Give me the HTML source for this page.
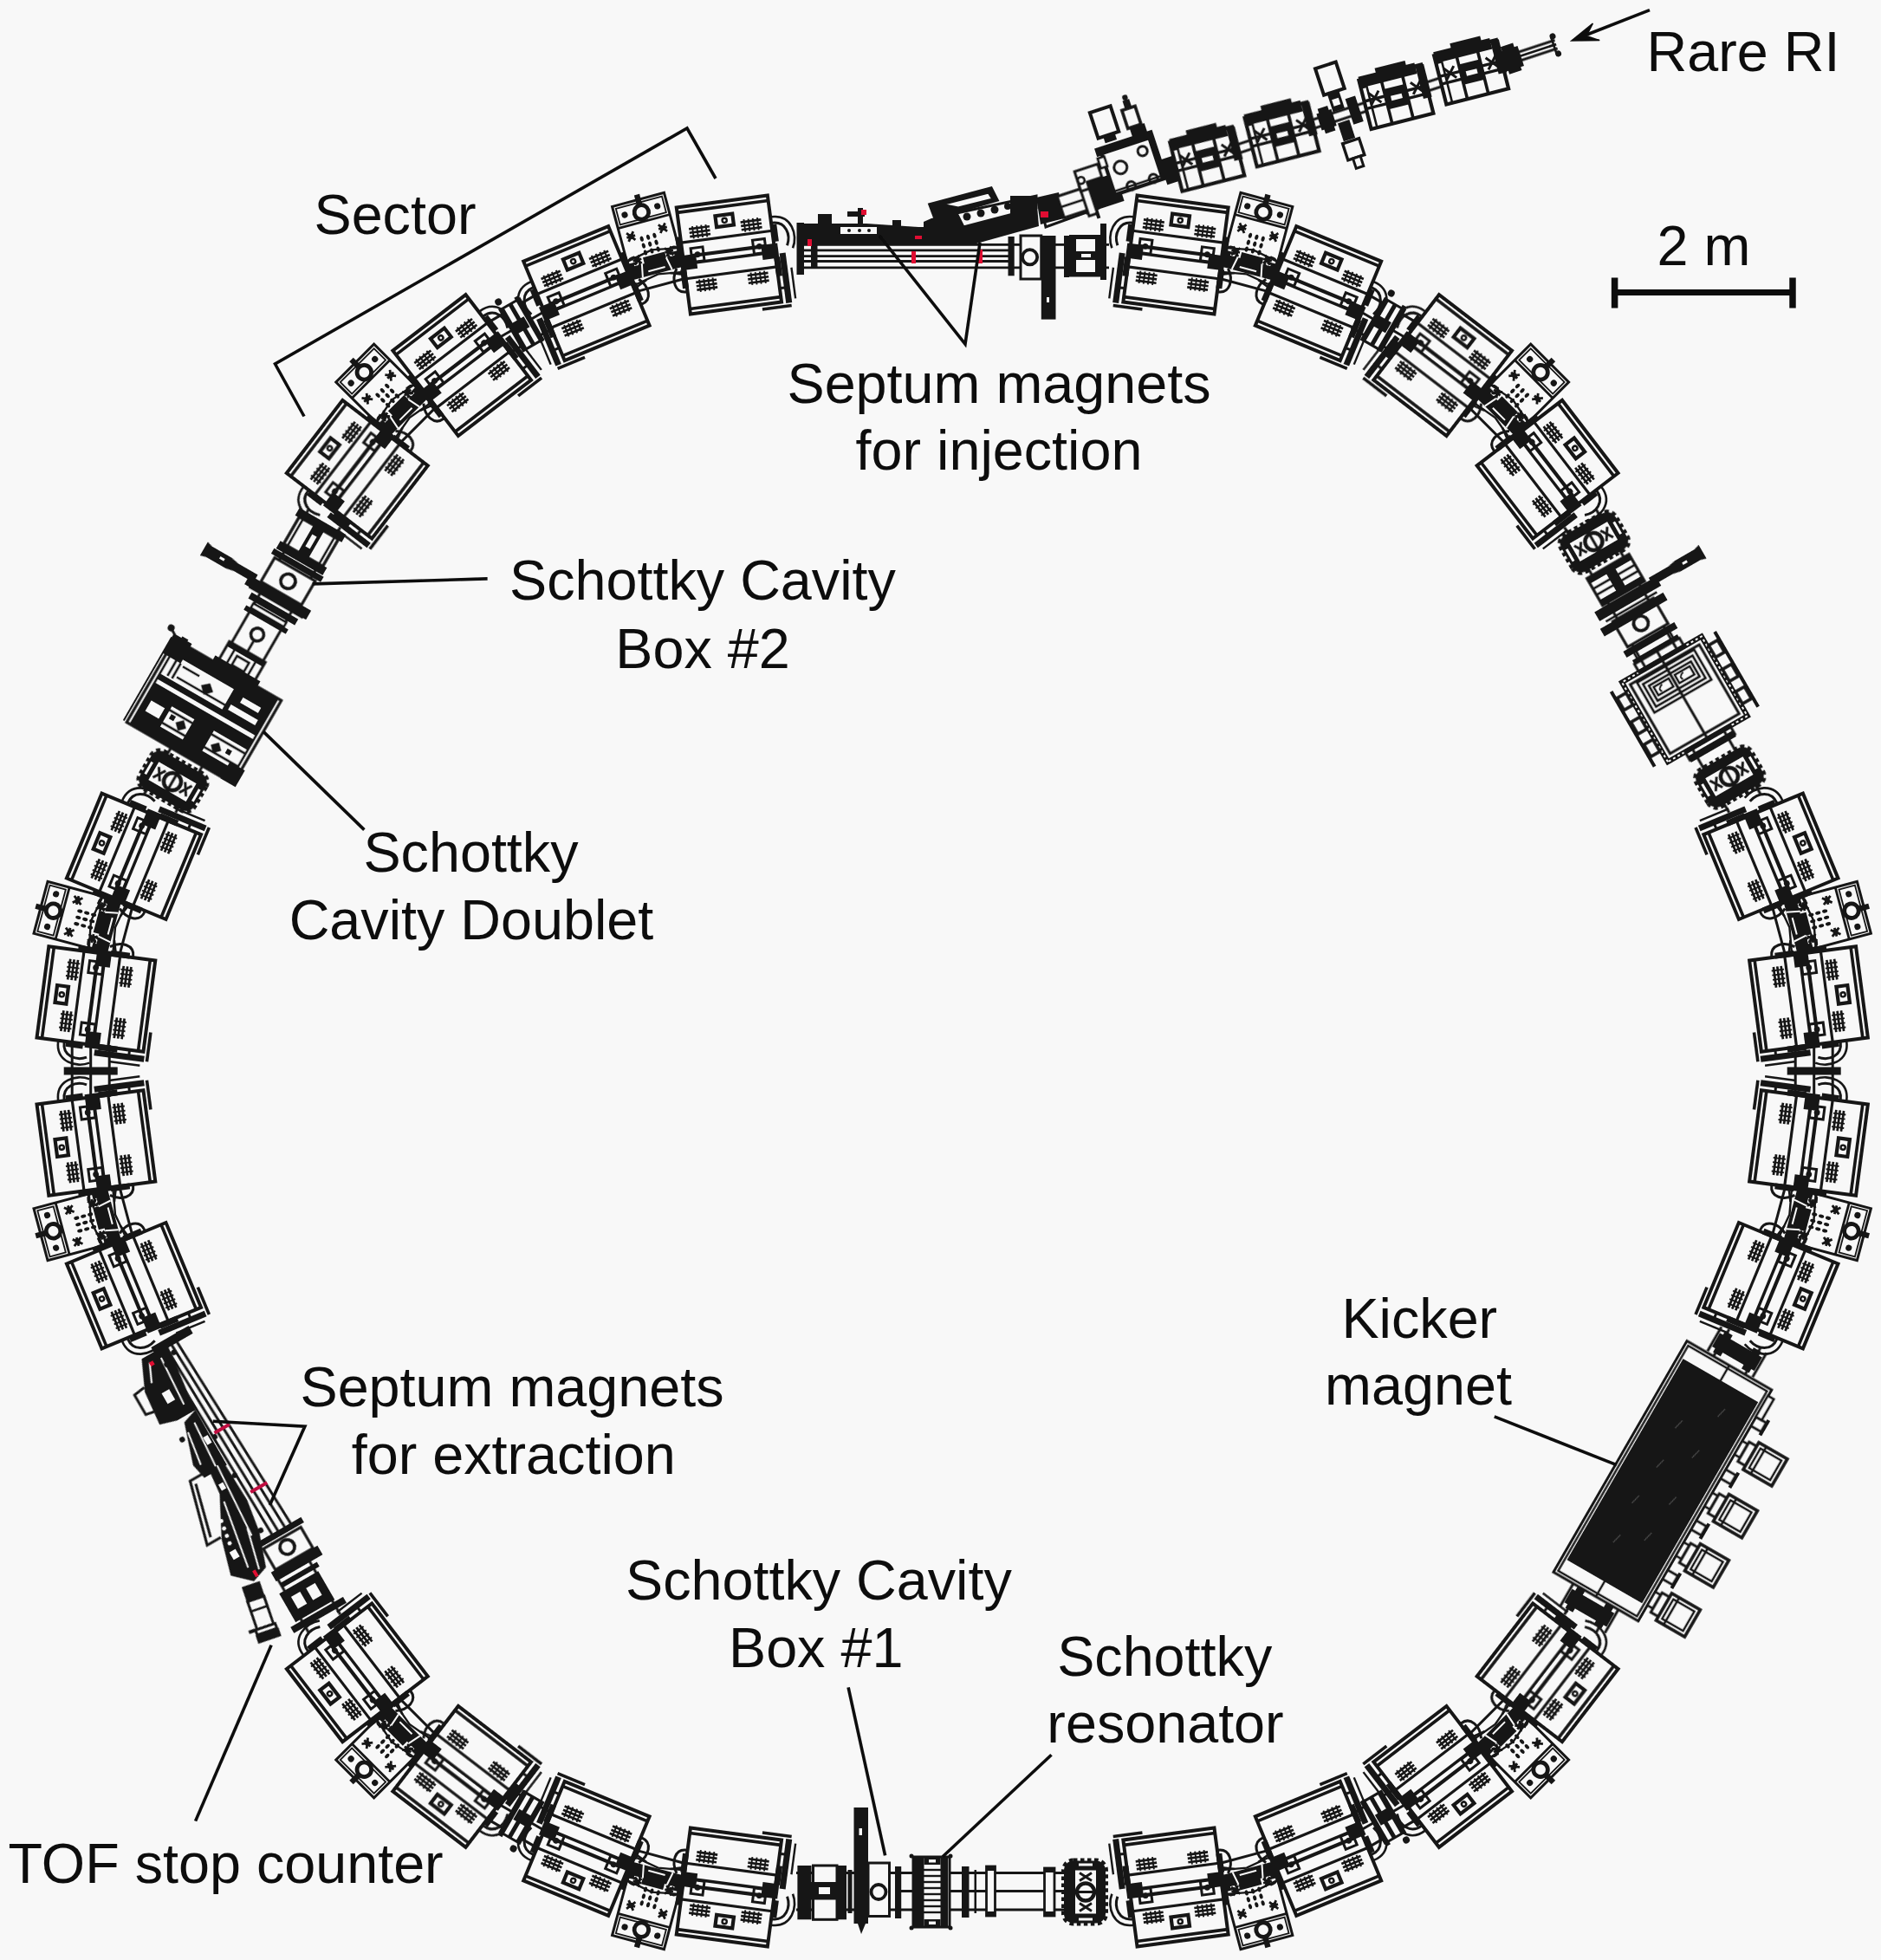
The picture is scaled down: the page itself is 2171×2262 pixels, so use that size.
<!DOCTYPE html><html><head><meta charset="utf-8"><style>html,body{margin:0;padding:0;background:#f8f8f8}svg{display:block}</style></head><body><svg width="2171" height="2262" viewBox="0 0 2171 2262"><rect width="2171" height="2262" fill="#f8f8f8"/><filter id="soft" x="0" y="0" width="100%" height="100%" filterUnits="userSpaceOnUse" primitiveUnits="userSpaceOnUse"><feGaussianBlur stdDeviation="0.55"/></filter><g filter="url(#soft)"><defs><g id="hs" stroke="#151515" stroke-width="2.7" fill="none"><line x1="-4.4" y1="-12" x2="-4.4" y2="12"/><line x1="0.0" y1="-12" x2="0.0" y2="12"/><line x1="4.4" y1="-12" x2="4.4" y2="12"/><line x1="-7.2" y1="-7.8" x2="7.2" y2="-7.8" stroke-width="1.9"/><line x1="-7.2" y1="-2.6" x2="7.2" y2="-2.6" stroke-width="1.9"/><line x1="-7.2" y1="2.6" x2="7.2" y2="2.6" stroke-width="1.9"/><line x1="-7.2" y1="7.8" x2="7.2" y2="7.8" stroke-width="1.9"/></g><g id="dip" stroke="#151515" fill="none" stroke-linejoin="miter"><rect x="-63" y="-54" width="126" height="108" fill="#f8f8f8" stroke="none"/><rect x="-62" y="-53" width="124" height="106" stroke-width="4"/><line x1="56" y1="-53" x2="56" y2="53" stroke-width="3.6"/><line x1="-56" y1="-53" x2="-56" y2="53" stroke-width="3.6"/><line x1="21" y1="-53" x2="21" y2="53" stroke-width="3.2"/><line x1="-21" y1="-53" x2="-21" y2="53" stroke-width="3.2"/><line x1="4.5" y1="-42" x2="4.5" y2="42" stroke-width="4.2"/><line x1="-3.8" y1="-42" x2="-3.8" y2="42" stroke-width="3.4"/><rect x="-3" y="29.0" width="16" height="14" stroke-width="3"/><circle cx="5" cy="36.0" r="3.4" fill="#151515" stroke="none"/><rect x="-11" y="38.0" width="17" height="19" fill="#151515" stroke="none"/><rect x="-32" y="51.0" width="22" height="7" fill="#151515" stroke="none"/><rect x="8" y="54.0" width="20" height="5" fill="#151515" stroke="none"/><rect x="-3" y="-43.0" width="16" height="14" stroke-width="3"/><circle cx="5" cy="-36.0" r="3.4" fill="#151515" stroke="none"/><rect x="-11" y="-57.0" width="17" height="19" fill="#151515" stroke="none"/><rect x="-32" y="-58.0" width="22" height="7" fill="#151515" stroke="none"/><rect x="8" y="-59.0" width="20" height="5" fill="#151515" stroke="none"/><use href="#hs" x="31" y="30"/><use href="#hs" x="31" y="-30"/><use href="#hs" x="-31" y="30"/><use href="#hs" x="-31" y="-30"/><rect x="33.5" y="-10" width="13" height="20" stroke-width="4.2"/><circle cx="40" cy="0" r="2.6" stroke-width="2.4"/><line x1="-67.5" y1="-64" x2="-67.5" y2="-30" stroke-width="3.6"/><rect x="-64" y="-65" width="58" height="7" fill="#151515" stroke="none"/><line x1="-60" y1="-69.5" x2="-24" y2="-69.5" stroke-width="2.4"/><line x1="-46" y1="-54" x2="-46" y2="-59" stroke-width="3"/><path d="M30 -54 C30 -70 14 -74 2 -68" stroke-width="3"/><path d="M37 -54 C37 -78 12 -82 -2 -74" stroke-width="2.6"/><path d="M-36 54 C-36 68 -20 70 -8 62" stroke-width="3"/><path d="M-16 54 L-12 70 M12 54 L10 68" stroke-width="2.6"/></g><g id="pb" stroke="#151515" fill="none"><rect x="-22" y="-31" width="102" height="62" fill="#f8f8f8" stroke-width="3"/><line x1="54" y1="-31" x2="54" y2="31" stroke-width="2.8"/><rect x="57.5" y="-27.5" width="19" height="55" stroke-width="1.8"/><circle cx="65" cy="0" r="8.3" stroke-width="4.8"/><circle cx="67" cy="-19.5" r="3.6" fill="#151515" stroke="none"/><circle cx="67" cy="19.5" r="3.6" fill="#151515" stroke="none"/><rect x="73" y="-3.2" width="13" height="6.4" fill="#151515" stroke="none"/><ellipse cx="18.8" cy="-7.6" rx="3.1" ry="2" fill="#151515" stroke="none"/><ellipse cx="18.8" cy="0.0" rx="3.1" ry="2" fill="#151515" stroke="none"/><ellipse cx="18.8" cy="7.6" rx="3.1" ry="2" fill="#151515" stroke="none"/><ellipse cx="27.0" cy="-7.6" rx="3.1" ry="2" fill="#151515" stroke="none"/><ellipse cx="27.0" cy="0.0" rx="3.1" ry="2" fill="#151515" stroke="none"/><ellipse cx="27.0" cy="7.6" rx="3.1" ry="2" fill="#151515" stroke="none"/><ellipse cx="35.2" cy="-7.6" rx="3.1" ry="2" fill="#151515" stroke="none"/><ellipse cx="35.2" cy="0.0" rx="3.1" ry="2" fill="#151515" stroke="none"/><ellipse cx="35.2" cy="7.6" rx="3.1" ry="2" fill="#151515" stroke="none"/><path d="M36 15 l10 8 M46 15 l-10 8 M41 14 l0 10" stroke-width="2.8"/><rect x="38" y="16" width="6" height="6" fill="#151515" stroke="none"/><path d="M36 -23 l10 8 M46 -23 l-10 8 M41 -24 l0 10" stroke-width="2.8"/><rect x="38" y="-22" width="6" height="6" fill="#151515" stroke="none"/><path d="M8 15 l10 8 M18 15 l-10 8 M13 14 l0 10" stroke-width="2.8"/><rect x="10" y="16" width="6" height="6" fill="#151515" stroke="none"/><path d="M8 -23 l10 8 M18 -23 l-10 8 M13 -24 l0 10" stroke-width="2.8"/><rect x="10" y="-22" width="6" height="6" fill="#151515" stroke="none"/><rect x="-8" y="-31" width="15" height="62" fill="#151515" stroke="none"/><rect x="4" y="-12" width="10" height="26" fill="#151515" stroke="none"/><rect x="-2" y="-38" width="12" height="14" fill="#151515" stroke="none"/><rect x="-2" y="24" width="12" height="14" fill="#151515" stroke="none"/><path d="M-8 -18 L7 -15 M-8 17 L7 14 M-3 -10 L-3 10" stroke-width="2" stroke="#f8f8f8"/><circle cx="10" cy="-24" r="7" stroke-width="2.4"/><circle cx="10" cy="24" r="7" stroke-width="2.4"/><path d="M-15 -34 L-9 0 L-15 34" stroke-width="2.4"/><path d="M14 -31 L20 0 L14 31" stroke-width="2.4"/></g></defs>
<use href="#pb" transform="translate(2074.1 1404.0) rotate(15.00)"/>
<use href="#pb" transform="translate(2074.1 1068.0) rotate(-15.00)"/>
<use href="#dip" transform="translate(2043.9 1483.7) rotate(22.50) scale(1 -1)"/>
<use href="#dip" transform="translate(2087.5 1319.0) rotate(7.50)"/>
<use href="#dip" transform="translate(2087.5 1153.0) rotate(-7.50) scale(1 -1)"/>
<use href="#dip" transform="translate(2043.9 988.3) rotate(-22.50)"/>
<g transform="translate(2093.7 1236.0) rotate(0.00)" stroke="#151515" fill="none"><line x1="-21.5" y1="-30" x2="-21.5" y2="30" stroke-width="3"/><line x1="0" y1="-30" x2="0" y2="30" stroke-width="3"/><line x1="21.5" y1="-30" x2="21.5" y2="30" stroke-width="3"/><rect x="-31" y="-4.5" width="62" height="9" fill="#151515" stroke="none"/></g>
<use href="#pb" transform="translate(1441.2 2164.3) rotate(75.00)"/>
<use href="#pb" transform="translate(1732.1 1996.3) rotate(45.00)"/>
<use href="#dip" transform="translate(1357.0 2178.0) rotate(82.50) scale(1 -1)"/>
<use href="#dip" transform="translate(1521.5 2133.4) rotate(67.50)"/>
<use href="#dip" transform="translate(1665.2 2050.4) rotate(52.50) scale(1 -1)"/>
<use href="#dip" transform="translate(1786.1 1930.3) rotate(37.50)"/>
<g transform="translate(1596.4 2097.3) rotate(60.00)" stroke="#151515" fill="none"><line x1="-21.5" y1="-30" x2="-21.5" y2="30" stroke-width="3"/><line x1="0" y1="-30" x2="0" y2="30" stroke-width="3"/><line x1="21.5" y1="-30" x2="21.5" y2="30" stroke-width="3"/><rect x="-27" y="-13" width="54" height="26" fill="#f8f8f8" stroke-width="3"/><rect x="-27" y="-13" width="54" height="5" fill="#151515" stroke="none"/><rect x="-27" y="-2" width="54" height="5" fill="#151515" stroke="none"/><rect x="-29" y="8" width="60" height="5" fill="#151515" stroke="none"/><rect x="-7" y="-9" width="14" height="16" fill="#151515" stroke="none"/><circle cx="36" cy="-10" r="4" fill="#151515" stroke="none"/></g>
<use href="#pb" transform="translate(466.3 1996.3) rotate(135.00)"/>
<use href="#pb" transform="translate(757.2 2164.3) rotate(105.00)"/>
<use href="#dip" transform="translate(412.3 1930.3) rotate(142.50) scale(1 -1)"/>
<use href="#dip" transform="translate(533.2 2050.4) rotate(127.50)"/>
<use href="#dip" transform="translate(676.9 2133.4) rotate(112.50) scale(1 -1)"/>
<use href="#dip" transform="translate(841.4 2178.0) rotate(97.50)"/>
<g transform="translate(601.9 2097.3) rotate(120.00)" stroke="#151515" fill="none"><line x1="-21.5" y1="-30" x2="-21.5" y2="30" stroke-width="3"/><line x1="0" y1="-30" x2="0" y2="30" stroke-width="3"/><line x1="21.5" y1="-30" x2="21.5" y2="30" stroke-width="3"/><rect x="-27" y="-13" width="54" height="26" fill="#f8f8f8" stroke-width="3"/><rect x="-27" y="-13" width="54" height="5" fill="#151515" stroke="none"/><rect x="-27" y="-2" width="54" height="5" fill="#151515" stroke="none"/><rect x="-29" y="8" width="60" height="5" fill="#151515" stroke="none"/><rect x="-7" y="-9" width="14" height="16" fill="#151515" stroke="none"/><circle cx="36" cy="-10" r="4" fill="#151515" stroke="none"/></g>
<use href="#pb" transform="translate(124.3 1068.0) rotate(195.00)"/>
<use href="#pb" transform="translate(124.3 1404.0) rotate(165.00)"/>
<use href="#dip" transform="translate(154.5 988.3) rotate(202.50) scale(1 -1)"/>
<use href="#dip" transform="translate(110.9 1153.0) rotate(187.50)"/>
<use href="#dip" transform="translate(110.9 1319.0) rotate(172.50) scale(1 -1)"/>
<use href="#dip" transform="translate(154.5 1483.7) rotate(157.50)"/>
<g transform="translate(104.7 1236.0) rotate(180.00)" stroke="#151515" fill="none"><line x1="-21.5" y1="-30" x2="-21.5" y2="30" stroke-width="3"/><line x1="0" y1="-30" x2="0" y2="30" stroke-width="3"/><line x1="21.5" y1="-30" x2="21.5" y2="30" stroke-width="3"/><rect x="-31" y="-4.5" width="62" height="9" fill="#151515" stroke="none"/></g>
<use href="#pb" transform="translate(757.2 307.7) rotate(255.00)"/>
<use href="#pb" transform="translate(466.3 475.7) rotate(225.00)"/>
<use href="#dip" transform="translate(841.4 294.0) rotate(262.50) scale(1 -1)"/>
<use href="#dip" transform="translate(676.9 338.6) rotate(247.50)"/>
<use href="#dip" transform="translate(533.2 421.6) rotate(232.50) scale(1 -1)"/>
<use href="#dip" transform="translate(412.3 541.7) rotate(217.50)"/>
<g transform="translate(601.9 374.7) rotate(240.00)" stroke="#151515" fill="none"><line x1="-21.5" y1="-30" x2="-21.5" y2="30" stroke-width="3"/><line x1="0" y1="-30" x2="0" y2="30" stroke-width="3"/><line x1="21.5" y1="-30" x2="21.5" y2="30" stroke-width="3"/><rect x="-27" y="-13" width="54" height="26" fill="#f8f8f8" stroke-width="3"/><rect x="-27" y="-13" width="54" height="5" fill="#151515" stroke="none"/><rect x="-27" y="-2" width="54" height="5" fill="#151515" stroke="none"/><rect x="-29" y="8" width="60" height="5" fill="#151515" stroke="none"/><rect x="-7" y="-9" width="14" height="16" fill="#151515" stroke="none"/><circle cx="36" cy="-10" r="4" fill="#151515" stroke="none"/></g>
<use href="#pb" transform="translate(1732.1 475.7) rotate(315.00)"/>
<use href="#pb" transform="translate(1441.2 307.7) rotate(285.00)"/>
<use href="#dip" transform="translate(1786.1 541.7) rotate(322.50) scale(1 -1)"/>
<use href="#dip" transform="translate(1665.2 421.6) rotate(307.50)"/>
<use href="#dip" transform="translate(1521.5 338.6) rotate(292.50) scale(1 -1)"/>
<use href="#dip" transform="translate(1357.0 294.0) rotate(277.50)"/>
<g transform="translate(1596.4 374.7) rotate(300.00)" stroke="#151515" fill="none"><line x1="-21.5" y1="-30" x2="-21.5" y2="30" stroke-width="3"/><line x1="0" y1="-30" x2="0" y2="30" stroke-width="3"/><line x1="21.5" y1="-30" x2="21.5" y2="30" stroke-width="3"/><rect x="-27" y="-13" width="54" height="26" fill="#f8f8f8" stroke-width="3"/><rect x="-27" y="-13" width="54" height="5" fill="#151515" stroke="none"/><rect x="-27" y="-2" width="54" height="5" fill="#151515" stroke="none"/><rect x="-29" y="8" width="60" height="5" fill="#151515" stroke="none"/><rect x="-7" y="-9" width="14" height="16" fill="#151515" stroke="none"/><circle cx="36" cy="-10" r="4" fill="#151515" stroke="none"/></g>
<g>
<line x1="919.0" y1="2161.5" x2="1276.0" y2="2161.5" stroke="#151515" stroke-width="3.2"/>
<line x1="919.0" y1="2204.0" x2="1276.0" y2="2204.0" stroke="#151515" stroke-width="3.2"/>
<line x1="1040.0" y1="2182.5" x2="1230.0" y2="2182.5" stroke="#151515" stroke-width="3.0"/>
<rect x="920.4" y="2153.0" width="16.1" height="62.3" fill="#151515" stroke="none"/>
<rect x="938.5" y="2153.0" width="27.5" height="62.3" fill="#f8f8f8" stroke="#151515" stroke-width="3.0"/>
<rect x="936.0" y="2172.0" width="30.0" height="20.5" fill="#151515" stroke="none"/>
<rect x="945.0" y="2178.0" width="13.0" height="8.0" fill="#f8f8f8" stroke="none"/>
<rect x="966.5" y="2153.0" width="10.5" height="62.3" fill="#151515" stroke="none"/>
<rect x="978.5" y="2158.0" width="5.0" height="50.0" fill="#151515" stroke="none"/>
<rect x="985.5" y="2086.0" width="16.5" height="134.0" fill="#151515" stroke="none"/>
<path d="M990 2220 L994 2232 L999 2220 Z" fill="#151515" stroke="#151515" stroke-width="0.0"/>
<rect x="991.5" y="2110.0" width="3.5" height="8.0" fill="#f8f8f8" stroke="none"/>
<rect x="1002.0" y="2150.0" width="24.5" height="61.5" fill="#f8f8f8" stroke="#151515" stroke-width="3.0"/>
<circle cx="1014.0" cy="2183.5" r="8.5" fill="none" stroke="#151515" stroke-width="3.8"/>
<rect x="1033.0" y="2154.0" width="7.2" height="60.0" fill="#151515" stroke="none"/>
<rect x="1054.0" y="2143.0" width="42.0" height="81.0" fill="#f8f8f8" stroke="#151515" stroke-width="3.0"/>
<rect x="1055.0" y="2143.0" width="11.5" height="81.0" fill="#151515" stroke="none"/>
<rect x="1085.5" y="2143.0" width="8.5" height="81.0" fill="#151515" stroke="none"/>
<line x1="1066.0" y1="2158.0" x2="1086.0" y2="2158.0" stroke="#151515" stroke-width="2.4"/>
<line x1="1066.0" y1="2165.0" x2="1086.0" y2="2165.0" stroke="#151515" stroke-width="2.4"/>
<line x1="1066.0" y1="2172.0" x2="1086.0" y2="2172.0" stroke="#151515" stroke-width="2.4"/>
<line x1="1066.0" y1="2179.0" x2="1086.0" y2="2179.0" stroke="#151515" stroke-width="2.4"/>
<line x1="1066.0" y1="2186.0" x2="1086.0" y2="2186.0" stroke="#151515" stroke-width="2.4"/>
<line x1="1066.0" y1="2193.0" x2="1086.0" y2="2193.0" stroke="#151515" stroke-width="2.4"/>
<line x1="1066.0" y1="2200.0" x2="1086.0" y2="2200.0" stroke="#151515" stroke-width="2.4"/>
<line x1="1066.0" y1="2207.0" x2="1086.0" y2="2207.0" stroke="#151515" stroke-width="2.4"/>
<circle cx="1052.0" cy="2142.0" r="2.5" fill="#151515" stroke="#151515" stroke-width="0.0"/>
<circle cx="1097.0" cy="2142.0" r="2.5" fill="#151515" stroke="#151515" stroke-width="0.0"/>
<circle cx="1052.0" cy="2225.0" r="2.5" fill="#151515" stroke="#151515" stroke-width="0.0"/>
<circle cx="1097.0" cy="2225.0" r="2.5" fill="#151515" stroke="#151515" stroke-width="0.0"/>
<rect x="1066.5" y="2143.0" width="19.0" height="9.0" fill="#151515" stroke="none"/>
<rect x="1066.5" y="2215.0" width="19.0" height="9.0" fill="#151515" stroke="none"/>
<rect x="1072.0" y="2146.0" width="8.0" height="3.5" fill="#f8f8f8" stroke="none"/>
<rect x="1072.0" y="2217.5" width="8.0" height="3.5" fill="#f8f8f8" stroke="none"/>
<rect x="1110.0" y="2154.0" width="8.5" height="59.0" fill="#151515" stroke="none"/>
<rect x="1124.5" y="2158.0" width="2.5" height="50.0" fill="#151515" stroke="none"/>
<rect x="1138.5" y="2154.0" width="10.0" height="57.0" fill="#f8f8f8" stroke="#151515" stroke-width="2.8"/>
<rect x="1138.5" y="2154.0" width="10.0" height="5.0" fill="#151515" stroke="none"/>
<rect x="1138.5" y="2206.0" width="10.0" height="5.0" fill="#151515" stroke="none"/>
<rect x="1205.5" y="2156.0" width="11.5" height="55.0" fill="#f8f8f8" stroke="#151515" stroke-width="2.8"/>
<rect x="1205.5" y="2156.0" width="11.5" height="5.0" fill="#151515" stroke="none"/>
<rect x="1205.5" y="2206.0" width="11.5" height="5.0" fill="#151515" stroke="none"/>
<g transform="translate(1252.0 2183.5) rotate(0.0)">
<rect x="-24" y="-36" width="48" height="72" rx="11" fill="#151515" stroke="#151515" stroke-width="6" stroke-dasharray="4.5 3.5"/>
<rect x="-11.0" y="-25.0" width="24.0" height="50.0" fill="#f8f8f8" stroke="none"/>
<path d="M-6 -22 l14 9 M8 -22 l-14 9 M-6 13 l14 9 M8 13 l-14 9" fill="none" stroke="#151515" stroke-width="2.8"/>
<circle cx="1.0" cy="0.0" r="10.0" fill="#f8f8f8" stroke="#151515" stroke-width="4.4"/>
<line x1="-8.0" y1="0.0" x2="10.0" y2="0.0" stroke="#151515" stroke-width="3.0"/>
<rect x="-7.0" y="-33.0" width="16.0" height="3.0" fill="#f8f8f8" stroke="none"/>
<rect x="-7.0" y="30.0" width="16.0" height="3.0" fill="#f8f8f8" stroke="none"/>
</g>
</g>
<g>
<line x1="927.0" y1="282.4" x2="1165.0" y2="282.4" stroke="#151515" stroke-width="2.8"/>
<line x1="927.0" y1="288.9" x2="1165.0" y2="288.9" stroke="#151515" stroke-width="2.8"/>
<line x1="927.0" y1="295.6" x2="1165.0" y2="295.6" stroke="#151515" stroke-width="2.8"/>
<line x1="927.0" y1="301.5" x2="1165.0" y2="301.5" stroke="#151515" stroke-width="2.8"/>
<line x1="927.0" y1="308.8" x2="1165.0" y2="308.8" stroke="#151515" stroke-width="2.8"/>
<rect x="919.5" y="257.0" width="8.5" height="60.0" fill="#151515" stroke="none"/>
<rect x="936.0" y="266.0" width="7.5" height="43.0" fill="#151515" stroke="none"/>
<path d="M928 258 L1000 258 L1060 262 L1066 262 L1066 283 L928 283 Z" fill="#151515" stroke="#151515" stroke-width="0.0"/>
<rect x="944.0" y="247.0" width="16.0" height="11.0" fill="#151515" stroke="none"/>
<rect x="970.0" y="262.0" width="42.0" height="8.0" fill="#f8f8f8" stroke="none"/>
<circle cx="980.0" cy="266.0" r="2.0" fill="#151515" stroke="#151515" stroke-width="0.0"/>
<circle cx="992.0" cy="266.0" r="2.0" fill="#151515" stroke="#151515" stroke-width="0.0"/>
<circle cx="1003.0" cy="266.0" r="2.0" fill="#151515" stroke="#151515" stroke-width="0.0"/>
<rect x="978.0" y="244.0" width="20.0" height="6.0" fill="#151515" stroke="none"/>
<rect x="990.0" y="240.0" width="6.0" height="18.0" fill="#151515" stroke="none"/>
<rect x="1030.0" y="254.0" width="10.0" height="8.0" fill="#151515" stroke="none"/>
<path d="M1066 256 L1075 252 L1196 226 L1199 261 L1120 283 L1066 283 Z" fill="#151515" stroke="#151515" stroke-width="0.0"/>
<path d="M1073 236 L1144 217 L1151 231 L1079 252 Z" fill="#151515" stroke="#151515" stroke-width="3.4"/>
<path d="M1086 236 L1141 222 L1146 230 L1106 240 Z" fill="#f8f8f8" stroke="#151515" stroke-width="3.0"/>
<path d="M1104 246 L1196 226 L1196 240 L1112 262 Z" fill="#f8f8f8" stroke="#151515" stroke-width="3.0"/>
<circle cx="1116.0" cy="250.0" r="4.5" fill="#151515" stroke="#151515" stroke-width="0.0"/>
<circle cx="1132.0" cy="246.0" r="4.5" fill="#151515" stroke="#151515" stroke-width="0.0"/>
<circle cx="1148.0" cy="242.0" r="4.5" fill="#151515" stroke="#151515" stroke-width="0.0"/>
<circle cx="1163.0" cy="238.0" r="4.0" fill="#151515" stroke="#151515" stroke-width="0.0"/>
<rect x="1166.0" y="226.0" width="30.0" height="26.0" fill="#151515" stroke="none"/>
<path d="M1201 236 L1262 214 L1268 240 L1207 262 Z" fill="#f8f8f8" stroke="#151515" stroke-width="3.0"/>
<line x1="1204.0" y1="249.0" x2="1265.0" y2="227.0" stroke="#151515" stroke-width="2.6"/>
<path d="M1196 228 L1222 222 L1228 252 L1201 259 Z" fill="#151515" stroke="#151515" stroke-width="0.0"/>
<rect x="1255.0" y="210.0" width="11.0" height="36.0" fill="#f8f8f8" stroke="#151515" stroke-width="3.0"/>
<line x1="1165.0" y1="282.4" x2="1280.0" y2="282.4" stroke="#151515" stroke-width="2.8"/>
<line x1="1165.0" y1="308.8" x2="1280.0" y2="308.8" stroke="#151515" stroke-width="2.8"/>
<rect x="1163.5" y="273.0" width="7.2" height="45.3" fill="#151515" stroke="none"/>
<rect x="1178.0" y="272.0" width="23.8" height="50.0" fill="#f8f8f8" stroke="#151515" stroke-width="3.0"/>
<circle cx="1188.6" cy="296.8" r="8.6" fill="none" stroke="#151515" stroke-width="3.8"/>
<rect x="1201.8" y="272.0" width="16.7" height="96.6" fill="#151515" stroke="none"/>
<rect x="1208.0" y="343.0" width="3.0" height="6.0" fill="#f8f8f8" stroke="none"/>
<rect x="1228.0" y="272.0" width="6.0" height="48.0" fill="#151515" stroke="none"/>
<rect x="1234.0" y="271.0" width="43.0" height="48.5" fill="#151515" stroke="none"/>
<rect x="1242.0" y="276.0" width="22.0" height="38.0" fill="#f8f8f8" stroke="none"/>
<rect x="1240.0" y="290.0" width="26.0" height="10.0" fill="#151515" stroke="none"/>
<rect x="1248.0" y="293.0" width="11.0" height="4.0" fill="#f8f8f8" stroke="none"/>
<rect x="1270.0" y="258.0" width="7.0" height="65.0" fill="#151515" stroke="none"/>
</g>
<g transform="translate(279.5 762.7) rotate(120.00)">
<line x1="-190.0" y1="-21.0" x2="20.0" y2="-21.0" stroke="#151515" stroke-width="3.0"/>
<line x1="-190.0" y1="21.0" x2="20.0" y2="21.0" stroke="#151515" stroke-width="3.0"/>
<line x1="128.0" y1="-21.0" x2="190.0" y2="-21.0" stroke="#151515" stroke-width="3.0"/>
<line x1="128.0" y1="21.0" x2="190.0" y2="21.0" stroke="#151515" stroke-width="3.0"/>
<g transform="translate(-159 0)">
<rect x="-18.0" y="-26.0" width="36.0" height="52.0" fill="#f8f8f8" stroke="#151515" stroke-width="3.4"/>
<rect x="-27.0" y="-31.0" width="10.0" height="62.0" fill="#151515" stroke="none"/>
<rect x="17.0" y="-31.0" width="10.0" height="62.0" fill="#151515" stroke="none"/>
<rect x="-18.0" y="-7.0" width="36.0" height="14.0" fill="#151515" stroke="none"/>
<rect x="-8.0" y="-3.0" width="16.0" height="6.0" fill="#f8f8f8" stroke="none"/>
<line x1="-17.0" y1="-21.0" x2="17.0" y2="-21.0" stroke="#151515" stroke-width="2.4"/>
<line x1="-17.0" y1="21.0" x2="17.0" y2="21.0" stroke="#151515" stroke-width="2.4"/>
</g>
<rect x="-131.0" y="-33.0" width="7.0" height="66.0" fill="#151515" stroke="none"/>
<rect x="-122.0" y="-27.0" width="32.0" height="54.0" fill="#f8f8f8" stroke="#151515" stroke-width="3.2"/>
<circle cx="-106.0" cy="0.0" r="8.5" fill="none" stroke="#151515" stroke-width="3.8"/>
<rect x="-90.0" y="-40.0" width="12.0" height="82.0" fill="#151515" stroke="none"/>
<path d="M-95 34 L-85 34 L-85 60 L-83 70 L-83 96 L-81 103 L-99 103 L-97 96 L-97 70 L-95 60 Z" fill="#151515" stroke="#151515" stroke-width="0.0"/>
<rect x="-92.0" y="76.0" width="3.0" height="6.0" fill="#f8f8f8" stroke="none"/>
<rect x="-74.0" y="-32.0" width="8.0" height="62.0" fill="#151515" stroke="none"/>
<line x1="-78.0" y1="-36.0" x2="-78.0" y2="36.0" stroke="#151515" stroke-width="2.5"/>
<rect x="-64.0" y="-22.0" width="6.0" height="44.0" fill="#f8f8f8" stroke="#151515" stroke-width="2.5"/>
<circle cx="-35.0" cy="0.0" r="7.5" fill="none" stroke="#151515" stroke-width="3.6"/>
<line x1="-27.0" y1="0.0" x2="-8.0" y2="0.0" stroke="#151515" stroke-width="2.8"/>
<rect x="-58.0" y="-28.0" width="6.0" height="56.0" fill="#151515" stroke="none"/>
<rect x="-12.0" y="-24.0" width="28.0" height="48.0" fill="#f8f8f8" stroke="#151515" stroke-width="3.0"/>
<rect x="-12.0" y="-24.0" width="6.0" height="48.0" fill="#151515" stroke="none"/>
<rect x="-2.0" y="-8.0" width="12.0" height="16.0" fill="#f8f8f8" stroke="#151515" stroke-width="2.6"/>
<line x1="-6.0" y1="-14.0" x2="16.0" y2="-14.0" stroke="#151515" stroke-width="2.5"/>
<line x1="-6.0" y1="14.0" x2="16.0" y2="14.0" stroke="#151515" stroke-width="2.5"/>
<rect x="10.0" y="-30.0" width="7.0" height="60.0" fill="#151515" stroke="none"/>
<rect x="17.0" y="-62.0" width="111.0" height="142.0" fill="#f8f8f8" stroke="#151515" stroke-width="3.2"/>
<line x1="17.0" y1="75.0" x2="128.0" y2="75.0" stroke="#151515" stroke-width="2.4"/>
<line x1="17.0" y1="-57.0" x2="128.0" y2="-57.0" stroke="#151515" stroke-width="2.4"/>
<rect x="17.0" y="-57.0" width="16.0" height="132.0" fill="#151515" stroke="none"/>
<rect x="113.0" y="-57.0" width="15.0" height="132.0" fill="#151515" stroke="none"/>
<rect x="12.0" y="60.0" width="26.0" height="24.0" fill="#151515" stroke="none"/>
<rect x="108.0" y="-66.0" width="22.0" height="20.0" fill="#151515" stroke="none"/>
<rect x="60.0" y="-57.0" width="7.0" height="132.0" fill="#151515" stroke="none"/>
<rect x="72.0" y="-57.0" width="7.0" height="132.0" fill="#151515" stroke="none"/>
<rect x="33.0" y="-57.0" width="27.0" height="49.0" fill="#151515" stroke="none"/>
<rect x="36.0" y="-46.0" width="7.0" height="24.0" fill="#f8f8f8" stroke="none"/>
<rect x="50.0" y="-50.0" width="7.0" height="36.0" fill="#f8f8f8" stroke="none"/>
<line x1="38.0" y1="60.0" x2="58.0" y2="60.0" stroke="#151515" stroke-width="2.6"/>
<line x1="38.0" y1="66.0" x2="58.0" y2="66.0" stroke="#151515" stroke-width="2.6"/>
<line x1="40.0" y1="34.0" x2="40.0" y2="56.0" stroke="#151515" stroke-width="2.4"/>
<line x1="54.0" y1="-8.0" x2="54.0" y2="56.0" stroke="#151515" stroke-width="2.4"/>
<path d="M41 19 l7 -8 l8 8 l-8 8 Z" fill="#151515" stroke="#151515" stroke-width="0.0"/>
<rect x="79.0" y="-57.0" width="7.0" height="132.0" fill="#151515" stroke="none"/>
<line x1="91.0" y1="-57.0" x2="91.0" y2="75.0" stroke="#151515" stroke-width="2.6"/>
<line x1="108.0" y1="-57.0" x2="108.0" y2="75.0" stroke="#151515" stroke-width="2.6"/>
<rect x="86.0" y="44.0" width="27.0" height="31.0" fill="#151515" stroke="none"/>
<rect x="92.0" y="50.0" width="14.0" height="18.0" fill="#f8f8f8" stroke="none"/>
<path d="M93 24 l7 -7 l7 7 l-7 7 Z" fill="#151515" stroke="#151515" stroke-width="0.0"/>
<path d="M95 -24 l7 -7 l7 7 l-7 7 Z" fill="#151515" stroke="#151515" stroke-width="0.0"/>
<rect x="94.0" y="34.0" width="6.0" height="6.0" fill="#151515" stroke="none"/>
<rect x="96.0" y="-42.0" width="6.0" height="6.0" fill="#151515" stroke="none"/>
<rect x="84.0" y="-12.0" width="44.0" height="26.0" fill="#151515" stroke="none"/>
<rect x="10.0" y="66.0" width="10.0" height="8.0" fill="#151515" stroke="none"/>
<circle cx="8.0" cy="90.0" r="4.0" fill="#151515" stroke="#151515" stroke-width="0.0"/>
<line x1="8.0" y1="90.0" x2="17.0" y2="76.0" stroke="#151515" stroke-width="3.0"/>
<line x1="17.0" y1="84.0" x2="128.0" y2="84.0" stroke="#151515" stroke-width="2.2"/>
<g transform="translate(160.0 0.0) rotate(0.0)">
<rect x="-24" y="-36" width="48" height="72" rx="11" fill="#151515" stroke="#151515" stroke-width="6" stroke-dasharray="4.5 3.5"/>
<rect x="-11.0" y="-25.0" width="24.0" height="50.0" fill="#f8f8f8" stroke="none"/>
<path d="M-6 -22 l14 9 M8 -22 l-14 9 M-6 13 l14 9 M8 13 l-14 9" fill="none" stroke="#151515" stroke-width="2.8"/>
<circle cx="1.0" cy="0.0" r="10.0" fill="#f8f8f8" stroke="#151515" stroke-width="4.4"/>
<line x1="-8.0" y1="0.0" x2="10.0" y2="0.0" stroke="#151515" stroke-width="3.0"/>
<rect x="-7.0" y="-33.0" width="16.0" height="3.0" fill="#f8f8f8" stroke="none"/>
<rect x="-7.0" y="30.0" width="16.0" height="3.0" fill="#f8f8f8" stroke="none"/>
</g>
</g>
<g transform="translate(1918.9 762.7) rotate(240.00)">
<line x1="-190.0" y1="-21.0" x2="-104.0" y2="-21.0" stroke="#151515" stroke-width="3.0"/>
<line x1="-190.0" y1="21.0" x2="-104.0" y2="21.0" stroke="#151515" stroke-width="3.0"/>
<line x1="2.0" y1="-21.0" x2="190.0" y2="-21.0" stroke="#151515" stroke-width="3.0"/>
<line x1="2.0" y1="21.0" x2="190.0" y2="21.0" stroke="#151515" stroke-width="3.0"/>
<g transform="translate(158.0 0.0) rotate(0.0)">
<rect x="-24" y="-36" width="48" height="72" rx="11" fill="#151515" stroke="#151515" stroke-width="6" stroke-dasharray="4.5 3.5"/>
<rect x="-11.0" y="-25.0" width="24.0" height="50.0" fill="#f8f8f8" stroke="none"/>
<path d="M-6 -22 l14 9 M8 -22 l-14 9 M-6 13 l14 9 M8 13 l-14 9" fill="none" stroke="#151515" stroke-width="2.8"/>
<circle cx="1.0" cy="0.0" r="10.0" fill="#f8f8f8" stroke="#151515" stroke-width="4.4"/>
<line x1="-8.0" y1="0.0" x2="10.0" y2="0.0" stroke="#151515" stroke-width="3.0"/>
<rect x="-7.0" y="-33.0" width="16.0" height="3.0" fill="#f8f8f8" stroke="none"/>
<rect x="-7.0" y="30.0" width="16.0" height="3.0" fill="#f8f8f8" stroke="none"/>
</g>
<rect x="90.0" y="-28.0" width="36.0" height="56.0" fill="#f8f8f8" stroke="#151515" stroke-width="3.2"/>
<rect x="90.0" y="-28.0" width="7.0" height="56.0" fill="#151515" stroke="none"/>
<rect x="119.0" y="-28.0" width="7.0" height="56.0" fill="#151515" stroke="none"/>
<rect x="97.0" y="-6.0" width="22.0" height="12.0" fill="#151515" stroke="none"/>
<line x1="104.0" y1="-28.0" x2="104.0" y2="28.0" stroke="#151515" stroke-width="2.6"/>
<line x1="112.0" y1="-28.0" x2="112.0" y2="28.0" stroke="#151515" stroke-width="2.6"/>
<rect x="76.0" y="-40.0" width="12.0" height="82.0" fill="#151515" stroke="none"/>
<path d="M81 34 L91 34 L91 60 L93 70 L93 96 L95 103 L77 103 L79 96 L79 70 L81 60 Z" fill="#151515" stroke="#151515" stroke-width="0.0"/>
<rect x="84.0" y="76.0" width="3.0" height="6.0" fill="#f8f8f8" stroke="none"/>
<line x1="72.0" y1="-34.0" x2="72.0" y2="34.0" stroke="#151515" stroke-width="2.5"/>
<rect x="34.0" y="-27.0" width="34.0" height="54.0" fill="#f8f8f8" stroke="#151515" stroke-width="3.2"/>
<circle cx="50.0" cy="0.0" r="8.5" fill="none" stroke="#151515" stroke-width="3.8"/>
<rect x="58.0" y="-44.0" width="10.0" height="84.0" fill="#151515" stroke="none"/>
<rect x="24.0" y="-34.0" width="8.0" height="68.0" fill="#151515" stroke="none"/>
<rect x="12.0" y="-30.0" width="6.0" height="60.0" fill="#151515" stroke="none"/>
<line x1="18.0" y1="-24.0" x2="24.0" y2="-24.0" stroke="#151515" stroke-width="2.5"/>
<line x1="18.0" y1="24.0" x2="24.0" y2="24.0" stroke="#151515" stroke-width="2.5"/>
<g transform="translate(-51 0)">
<rect x="-53.0" y="-53.0" width="106.0" height="106.0" fill="#f8f8f8" stroke="#151515" stroke-width="6.0"/>
<rect x="-46.0" y="-46.0" width="92.0" height="92.0" fill="none" stroke="#151515" stroke-width="3.0"/>
<rect x="-53" y="-53" width="106" height="106" fill="none" stroke="#f8f8f8" stroke-width="2" stroke-dasharray="3 3"/>
<line x1="-53.0" y1="0.0" x2="66.0" y2="0.0" stroke="#151515" stroke-width="2.8"/>
<rect x="4.0" y="-38.0" width="40.0" height="76.0" fill="none" stroke="#151515" stroke-width="2.6"/>
<rect x="9.0" y="-33.0" width="30.0" height="66.0" fill="none" stroke="#151515" stroke-width="2.6"/>
<rect x="14.0" y="-28.0" width="20.0" height="56.0" fill="none" stroke="#151515" stroke-width="2.6"/>
<rect x="19.0" y="-24.0" width="11.0" height="20.0" fill="none" stroke="#151515" stroke-width="2.4"/>
<rect x="19.0" y="4.0" width="11.0" height="20.0" fill="none" stroke="#151515" stroke-width="2.4"/>
<path d="M21 -18 q4 -4 7 4 M21 10 q4 -4 7 4" fill="none" stroke="#151515" stroke-width="2.0"/>
<line x1="14.0" y1="-28.0" x2="14.0" y2="28.0" stroke="#151515" stroke-width="2.2"/>
<rect x="-38.0" y="55.0" width="16.0" height="12.0" fill="#f8f8f8" stroke="#151515" stroke-width="3.6"/>
<rect x="-38.0" y="-67.0" width="16.0" height="12.0" fill="#f8f8f8" stroke="#151515" stroke-width="3.6"/>
<rect x="-8.0" y="55.0" width="16.0" height="12.0" fill="#f8f8f8" stroke="#151515" stroke-width="3.6"/>
<rect x="-8.0" y="-67.0" width="16.0" height="12.0" fill="#f8f8f8" stroke="#151515" stroke-width="3.6"/>
<rect x="24.0" y="55.0" width="16.0" height="12.0" fill="#f8f8f8" stroke="#151515" stroke-width="3.6"/>
<rect x="24.0" y="-67.0" width="16.0" height="12.0" fill="#f8f8f8" stroke="#151515" stroke-width="3.6"/>
<line x1="-50.0" y1="69.0" x2="50.0" y2="69.0" stroke="#151515" stroke-width="3.8"/>
<line x1="-50.0" y1="-69.0" x2="50.0" y2="-69.0" stroke="#151515" stroke-width="3.8"/>
<rect x="-64.0" y="-30.0" width="11.0" height="60.0" fill="none" stroke="#151515" stroke-width="3.0"/>
<rect x="53.0" y="-30.0" width="11.0" height="60.0" fill="none" stroke="#151515" stroke-width="3.0"/>
</g>
<g transform="translate(-155.0 0.0) rotate(0.0)">
<rect x="-24" y="-36" width="48" height="72" rx="11" fill="#151515" stroke="#151515" stroke-width="6" stroke-dasharray="4.5 3.5"/>
<rect x="-11.0" y="-25.0" width="24.0" height="50.0" fill="#f8f8f8" stroke="none"/>
<path d="M-6 -22 l14 9 M8 -22 l-14 9 M-6 13 l14 9 M8 13 l-14 9" fill="none" stroke="#151515" stroke-width="2.8"/>
<circle cx="1.0" cy="0.0" r="10.0" fill="#f8f8f8" stroke="#151515" stroke-width="4.4"/>
<line x1="-8.0" y1="0.0" x2="10.0" y2="0.0" stroke="#151515" stroke-width="3.0"/>
<rect x="-7.0" y="-33.0" width="16.0" height="3.0" fill="#f8f8f8" stroke="none"/>
<rect x="-7.0" y="30.0" width="16.0" height="3.0" fill="#f8f8f8" stroke="none"/>
</g>
<rect x="-118.0" y="-30.0" width="8.0" height="60.0" fill="#151515" stroke="none"/>
</g>
<g transform="translate(1918.9 1709.2) rotate(-60.00)">
<line x1="-190.0" y1="-21.0" x2="-154.0" y2="-21.0" stroke="#151515" stroke-width="3.0"/>
<line x1="-190.0" y1="21.0" x2="-154.0" y2="21.0" stroke="#151515" stroke-width="3.0"/>
<line x1="154.0" y1="-21.0" x2="190.0" y2="-21.0" stroke="#151515" stroke-width="3.0"/>
<line x1="154.0" y1="21.0" x2="190.0" y2="21.0" stroke="#151515" stroke-width="3.0"/>
<rect x="-154.0" y="-56.5" width="308.0" height="113.0" fill="#f8f8f8" stroke="#151515" stroke-width="3.0"/>
<rect x="-150.0" y="-52.5" width="300.0" height="105.0" fill="none" stroke="#151515" stroke-width="2.4"/>
<rect x="-134.0" y="-50.0" width="268.0" height="100.0" fill="#151515" stroke="none"/>
<line x1="-154.0" y1="0.0" x2="-134.0" y2="0.0" stroke="#151515" stroke-width="2.4"/>
<line x1="134.0" y1="0.0" x2="154.0" y2="0.0" stroke="#151515" stroke-width="2.4"/>
<line x1="-90.0" y1="-14.0" x2="-78.0" y2="-11.0" stroke="#555" stroke-width="1.2"/>
<line x1="-40.0" y1="-18.0" x2="-28.0" y2="-15.0" stroke="#555" stroke-width="1.2"/>
<line x1="10.0" y1="-14.0" x2="22.0" y2="-11.0" stroke="#555" stroke-width="1.2"/>
<line x1="60.0" y1="-18.0" x2="72.0" y2="-15.0" stroke="#555" stroke-width="1.2"/>
<line x1="-70.0" y1="16.0" x2="-58.0" y2="19.0" stroke="#555" stroke-width="1.2"/>
<line x1="-20.0" y1="20.0" x2="-8.0" y2="23.0" stroke="#555" stroke-width="1.2"/>
<line x1="40.0" y1="16.0" x2="52.0" y2="19.0" stroke="#555" stroke-width="1.2"/>
<line x1="96.0" y1="18.0" x2="108.0" y2="21.0" stroke="#555" stroke-width="1.2"/>
<rect x="68.0" y="56.5" width="18.0" height="7.5" fill="#f8f8f8" stroke="#151515" stroke-width="2.6"/>
<rect x="63.0" y="64.0" width="26.0" height="12.0" fill="#f8f8f8" stroke="#151515" stroke-width="3.0"/>
<rect x="58.0" y="74.0" width="36.0" height="38.0" fill="#f8f8f8" stroke="#151515" stroke-width="3.6"/>
<rect x="63.0" y="79.0" width="26.0" height="28.0" fill="none" stroke="#151515" stroke-width="2.4"/>
<line x1="58.0" y1="84.0" x2="94.0" y2="84.0" stroke="#151515" stroke-width="2.6"/>
<rect x="-1.0" y="56.5" width="18.0" height="7.5" fill="#f8f8f8" stroke="#151515" stroke-width="2.6"/>
<rect x="-6.0" y="64.0" width="26.0" height="12.0" fill="#f8f8f8" stroke="#151515" stroke-width="3.0"/>
<rect x="-11.0" y="74.0" width="36.0" height="38.0" fill="#f8f8f8" stroke="#151515" stroke-width="3.6"/>
<rect x="-6.0" y="79.0" width="26.0" height="28.0" fill="none" stroke="#151515" stroke-width="2.4"/>
<line x1="-11.0" y1="84.0" x2="25.0" y2="84.0" stroke="#151515" stroke-width="2.6"/>
<rect x="-67.0" y="56.5" width="18.0" height="7.5" fill="#f8f8f8" stroke="#151515" stroke-width="2.6"/>
<rect x="-72.0" y="64.0" width="26.0" height="12.0" fill="#f8f8f8" stroke="#151515" stroke-width="3.0"/>
<rect x="-77.0" y="74.0" width="36.0" height="38.0" fill="#f8f8f8" stroke="#151515" stroke-width="3.6"/>
<rect x="-72.0" y="79.0" width="26.0" height="28.0" fill="none" stroke="#151515" stroke-width="2.4"/>
<line x1="-77.0" y1="84.0" x2="-41.0" y2="84.0" stroke="#151515" stroke-width="2.6"/>
<rect x="-133.0" y="56.5" width="18.0" height="7.5" fill="#f8f8f8" stroke="#151515" stroke-width="2.6"/>
<rect x="-138.0" y="64.0" width="26.0" height="12.0" fill="#f8f8f8" stroke="#151515" stroke-width="3.0"/>
<rect x="-143.0" y="74.0" width="36.0" height="38.0" fill="#f8f8f8" stroke="#151515" stroke-width="3.6"/>
<rect x="-138.0" y="79.0" width="26.0" height="28.0" fill="none" stroke="#151515" stroke-width="2.4"/>
<line x1="-143.0" y1="84.0" x2="-107.0" y2="84.0" stroke="#151515" stroke-width="2.6"/>
<rect x="106.0" y="56.5" width="12.0" height="13.5" fill="#f8f8f8" stroke="#151515" stroke-width="2.8"/>
<line x1="102.0" y1="71.0" x2="122.0" y2="71.0" stroke="#151515" stroke-width="4.0"/>
<rect x="36.0" y="56.5" width="12.0" height="13.5" fill="#f8f8f8" stroke="#151515" stroke-width="2.8"/>
<line x1="32.0" y1="71.0" x2="52.0" y2="71.0" stroke="#151515" stroke-width="4.0"/>
<rect x="-32.0" y="56.5" width="12.0" height="13.5" fill="#f8f8f8" stroke="#151515" stroke-width="2.8"/>
<line x1="-36.0" y1="71.0" x2="-16.0" y2="71.0" stroke="#151515" stroke-width="4.0"/>
<rect x="-98.0" y="56.5" width="12.0" height="13.5" fill="#f8f8f8" stroke="#151515" stroke-width="2.8"/>
<line x1="-102.0" y1="71.0" x2="-82.0" y2="71.0" stroke="#151515" stroke-width="4.0"/>
<rect x="118.0" y="56.0" width="28.0" height="8.0" fill="#f8f8f8" stroke="#151515" stroke-width="2.6"/>
<rect x="163.0" y="-28.0" width="18.0" height="56.0" fill="#151515" stroke="none"/>
<rect x="158.0" y="-24.0" width="28.0" height="10.0" fill="#151515" stroke="none"/>
<rect x="158.0" y="14.0" width="28.0" height="10.0" fill="#151515" stroke="none"/>
<line x1="156.0" y1="-30.0" x2="188.0" y2="-30.0" stroke="#151515" stroke-width="3.0"/>
<line x1="156.0" y1="30.0" x2="188.0" y2="30.0" stroke="#151515" stroke-width="3.0"/>
<rect x="-178.0" y="-28.0" width="18.0" height="56.0" fill="#151515" stroke="none"/>
<rect x="-183.0" y="-24.0" width="28.0" height="10.0" fill="#151515" stroke="none"/>
<rect x="-183.0" y="14.0" width="28.0" height="10.0" fill="#151515" stroke="none"/>
<line x1="-185.0" y1="-30.0" x2="-153.0" y2="-30.0" stroke="#151515" stroke-width="3.0"/>
<line x1="-185.0" y1="30.0" x2="-153.0" y2="30.0" stroke="#151515" stroke-width="3.0"/>
</g>
<g transform="translate(279.5 1709.2) rotate(60.00)">
<path d="M-178 -15 L70 -24 M-178 -8 L70 -16 M-178 -1 L70 -7 M-178 6 L70 1" fill="none" stroke="#151515" stroke-width="3.0"/>
<rect x="-186.0" y="-36.0" width="10.0" height="50.0" fill="#151515" stroke="none"/>
<path d="M-180 -4 L-180 30 L-145 46 L-104 50 L-98 30 L-98 6 Z" fill="#151515" stroke="#151515" stroke-width="0.0"/>
<path d="M-98 6 L-92 24 L-44 40 L-25 36 L-25 6 Z" fill="#151515" stroke="#151515" stroke-width="0.0"/>
<path d="M-40 8 L-38 26 L0 30 L46 54 L88 66 L107 46 L100 26 L60 12 L22 6 Z" fill="#151515" stroke="#151515" stroke-width="0.0"/>
<path d="M-30 36 L-30 52 L44 72 L44 54 M-24 48 L38 64" fill="none" stroke="#151515" stroke-width="3.0"/>
<path d="M-150 44 L-148 58 L-122 58 L-120 48" fill="none" stroke="#151515" stroke-width="3.0"/>
<circle cx="28.0" cy="44.0" r="2.4" fill="#f8f8f8" stroke="#151515" stroke-width="0.0"/>
<circle cx="37.0" cy="45.5" r="2.4" fill="#f8f8f8" stroke="#151515" stroke-width="0.0"/>
<circle cx="46.0" cy="47.0" r="2.4" fill="#f8f8f8" stroke="#151515" stroke-width="0.0"/>
<circle cx="55.0" cy="48.5" r="2.4" fill="#f8f8f8" stroke="#151515" stroke-width="0.0"/>
<rect x="-134.0" y="20.0" width="14.0" height="10.0" fill="#f8f8f8" stroke="none"/>
<line x1="-170.0" y1="10.0" x2="-110.0" y2="14.0" stroke="#f8f8f8" stroke-width="2.0"/>
<line x1="-172.0" y1="24.0" x2="-150.0" y2="34.0" stroke="#f8f8f8" stroke-width="2.0"/>
<line x1="-86.0" y1="14.0" x2="-30.0" y2="18.0" stroke="#f8f8f8" stroke-width="2.0"/>
<line x1="-80.0" y1="26.0" x2="-40.0" y2="32.0" stroke="#f8f8f8" stroke-width="2.0"/>
<line x1="-30.0" y1="16.0" x2="60.0" y2="22.0" stroke="#f8f8f8" stroke-width="2.0"/>
<line x1="10.0" y1="30.0" x2="90.0" y2="44.0" stroke="#f8f8f8" stroke-width="2.0"/>
<line x1="50.0" y1="22.0" x2="98.0" y2="34.0" stroke="#f8f8f8" stroke-width="2.0"/>
<rect x="-66.0" y="8.0" width="10.0" height="6.0" fill="#f8f8f8" stroke="none"/>
<rect x="64.0" y="46.0" width="10.0" height="8.0" fill="#f8f8f8" stroke="none"/>
<rect x="-10.0" y="20.0" width="8.0" height="6.0" fill="#f8f8f8" stroke="none"/>
<circle cx="-168.0" cy="-6.0" r="3.2" fill="#151515" stroke="#151515" stroke-width="0.0"/>
<circle cx="-160.0" cy="8.0" r="3.2" fill="#151515" stroke="#151515" stroke-width="0.0"/>
<circle cx="-150.0" cy="20.0" r="3.2" fill="#151515" stroke="#151515" stroke-width="0.0"/>
<circle cx="-120.0" cy="44.0" r="3.2" fill="#151515" stroke="#151515" stroke-width="0.0"/>
<circle cx="-76.0" cy="36.0" r="3.2" fill="#151515" stroke="#151515" stroke-width="0.0"/>
<circle cx="-60.0" cy="2.0" r="3.2" fill="#151515" stroke="#151515" stroke-width="0.0"/>
<circle cx="-10.0" cy="4.0" r="3.2" fill="#151515" stroke="#151515" stroke-width="0.0"/>
<circle cx="60.0" cy="10.0" r="3.2" fill="#151515" stroke="#151515" stroke-width="0.0"/>
<rect x="-172.0" y="20.0" width="5.0" height="5.0" fill="#e01030" stroke="none"/>
<rect x="-66.0" y="-20.0" width="4.0" height="20.0" fill="#c01040" stroke="none"/>
<rect x="14.0" y="-24.0" width="4.0" height="22.0" fill="#c01040" stroke="none"/>
<rect x="96.0" y="38.0" width="8.0" height="4.0" fill="#e01030" stroke="none"/>
<rect x="70.0" y="-38.0" width="7.0" height="62.0" fill="#151515" stroke="none"/>
<rect x="80.0" y="-32.0" width="28.0" height="50.0" fill="#f8f8f8" stroke="#151515" stroke-width="3.2"/>
<circle cx="92.0" cy="-7.0" r="8.5" fill="none" stroke="#151515" stroke-width="3.8"/>
<rect x="108.0" y="-38.0" width="12.0" height="62.0" fill="#151515" stroke="none"/>
<rect x="124.0" y="-28.0" width="6.0" height="50.0" fill="#151515" stroke="none"/>
<rect x="134.0" y="-24.0" width="38.0" height="52.0" fill="#151515" stroke="none"/>
<rect x="144.0" y="-14.0" width="16.0" height="32.0" fill="#f8f8f8" stroke="none"/>
<rect x="140.0" y="-2.0" width="24.0" height="8.0" fill="#151515" stroke="none"/>
<rect x="174.0" y="-34.0" width="8.0" height="70.0" fill="#151515" stroke="none"/>
<line x1="120.0" y1="-21.0" x2="190.0" y2="-21.0" stroke="#151515" stroke-width="3.0"/>
<line x1="120.0" y1="21.0" x2="190.0" y2="21.0" stroke="#151515" stroke-width="3.0"/>
<g transform="translate(108 51) rotate(11)">
<rect x="0.0" y="-11.0" width="18.0" height="22.0" fill="#151515" stroke="none"/>
<rect x="18.0" y="-10.0" width="34.0" height="20.0" fill="#f8f8f8" stroke="#151515" stroke-width="3.0"/>
<line x1="30.0" y1="-10.0" x2="30.0" y2="10.0" stroke="#151515" stroke-width="2.6"/>
<rect x="52.0" y="-12.0" width="6.0" height="24.0" fill="#f8f8f8" stroke="#151515" stroke-width="3.0"/>
<rect x="58.0" y="-14.0" width="10.0" height="28.0" fill="#151515" stroke="none"/>
<rect x="50.0" y="12.0" width="4.0" height="8.0" fill="#151515" stroke="none"/>
</g>
</g>
<g transform="translate(1393.3 183.5) rotate(-18.2)">
<line x1="-178.0" y1="-5.0" x2="-120.0" y2="-5.0" stroke="#151515" stroke-width="3.0"/>
<line x1="-178.0" y1="5.0" x2="-120.0" y2="5.0" stroke="#151515" stroke-width="3.0"/>
<line x1="37.0" y1="-5.0" x2="54.0" y2="-5.0" stroke="#151515" stroke-width="3.0"/>
<line x1="37.0" y1="5.0" x2="54.0" y2="5.0" stroke="#151515" stroke-width="3.0"/>
<line x1="128.0" y1="-5.0" x2="192.0" y2="-5.0" stroke="#151515" stroke-width="3.0"/>
<line x1="128.0" y1="5.0" x2="192.0" y2="5.0" stroke="#151515" stroke-width="3.0"/>
<line x1="267.0" y1="-5.0" x2="284.0" y2="-5.0" stroke="#151515" stroke-width="3.0"/>
<line x1="267.0" y1="5.0" x2="284.0" y2="5.0" stroke="#151515" stroke-width="3.0"/>
<line x1="358.0" y1="-5.0" x2="424.0" y2="-5.0" stroke="#151515" stroke-width="3.0"/>
<line x1="358.0" y1="5.0" x2="424.0" y2="5.0" stroke="#151515" stroke-width="3.0"/>
<rect x="-178.0" y="-13.0" width="32.0" height="26.0" fill="#f8f8f8" stroke="#151515" stroke-width="3.2"/>
<line x1="-178.0" y1="0.0" x2="-146.0" y2="0.0" stroke="#151515" stroke-width="2.6"/>
<rect x="-150.0" y="-17.0" width="10.0" height="37.0" fill="#f8f8f8" stroke="#151515" stroke-width="3.0"/>
<rect x="-142.0" y="18.0" width="4.0" height="8.0" fill="#151515" stroke="none"/>
<rect x="-140.0" y="-18.0" width="34.0" height="34.0" fill="#151515" stroke="none"/>
<path d="M-150 -34 L-122 -34 L-122 -18 L-140 -18 L-140 -10 L-150 -10 Z" fill="#f8f8f8" stroke="#151515" stroke-width="3.0"/>
<circle cx="-146.0" cy="-22.0" r="4.0" fill="none" stroke="#151515" stroke-width="2.6"/>
<rect x="-114.0" y="-46.0" width="61.0" height="52.0" fill="#f8f8f8" stroke="#151515" stroke-width="4.2"/>
<rect x="-120.0" y="-52.0" width="70.0" height="10.0" fill="#151515" stroke="none"/>
<rect x="-58.0" y="-46.0" width="8.0" height="52.0" fill="#151515" stroke="none"/>
<rect x="-120.0" y="-40.0" width="8.0" height="12.0" fill="#f8f8f8" stroke="#151515" stroke-width="2.6"/>
<circle cx="-98.0" cy="-22.0" r="7.5" fill="none" stroke="#151515" stroke-width="3.0"/>
<circle cx="-68.0" cy="-32.0" r="5.5" fill="none" stroke="#151515" stroke-width="3.0"/>
<circle cx="-93.0" cy="2.0" r="5.0" fill="none" stroke="#151515" stroke-width="2.8"/>
<circle cx="-66.0" cy="2.0" r="5.0" fill="none" stroke="#151515" stroke-width="2.8"/>
<line x1="-114.0" y1="2.0" x2="-53.0" y2="2.0" stroke="#151515" stroke-width="2.4"/>
<rect x="-53.0" y="-16.0" width="23.0" height="30.0" fill="#151515" stroke="none"/>
<rect x="-112.0" y="-93.0" width="25.0" height="31.0" fill="#f8f8f8" stroke="#151515" stroke-width="4.0"/>
<rect x="-106.0" y="-61.0" width="14.0" height="7.0" fill="#151515" stroke="none"/>
<rect x="-76.0" y="-84.0" width="16.0" height="22.0" fill="#f8f8f8" stroke="#151515" stroke-width="3.6"/>
<rect x="-72.0" y="-94.0" width="8.0" height="10.0" fill="#151515" stroke="none"/>
<circle cx="-68.0" cy="-97.0" r="3.2" fill="#151515" stroke="#151515" stroke-width="0.0"/>
<rect x="-74.0" y="-62.0" width="18.0" height="10.0" fill="#151515" stroke="none"/>
<g transform="translate(0.0 0) rotate(4)">
<rect x="-37.0" y="-29.0" width="74.0" height="58.0" fill="#f8f8f8" stroke="#151515" stroke-width="4.2"/>
<rect x="-37.0" y="-33.0" width="67.0" height="13.0" fill="#151515" stroke="none"/>
<rect x="-16.0" y="-38.0" width="36.0" height="6.0" fill="#151515" stroke="none"/>
<line x1="-12.0" y1="-29.0" x2="-12.0" y2="29.0" stroke="#151515" stroke-width="3.6"/>
<line x1="13.0" y1="-29.0" x2="13.0" y2="29.0" stroke="#151515" stroke-width="3.6"/>
<line x1="-37.0" y1="-4.0" x2="37.0" y2="-4.0" stroke="#151515" stroke-width="3.4"/>
<line x1="-37.0" y1="5.0" x2="37.0" y2="5.0" stroke="#151515" stroke-width="3.4"/>
<rect x="-12.0" y="-12.0" width="25.0" height="24.0" fill="#151515" stroke="none"/>
<rect x="-6.0" y="-2.5" width="13.0" height="5.5" fill="#f8f8f8" stroke="none"/>
<path d="M-30 -12 l12 14 M-18 -12 l-12 14 M20 -12 l12 14 M32 -12 l-12 14" fill="none" stroke="#151515" stroke-width="3.0"/>
<rect x="-37.0" y="-20.0" width="7.0" height="49.0" fill="none" stroke="#151515" stroke-width="2.6"/>
<rect x="30.0" y="-29.0" width="10.0" height="39.0" fill="#151515" stroke="none"/>
</g>
<g transform="translate(90.8 0) rotate(4)">
<rect x="-37.0" y="-29.0" width="74.0" height="58.0" fill="#f8f8f8" stroke="#151515" stroke-width="4.2"/>
<rect x="-37.0" y="-33.0" width="67.0" height="13.0" fill="#151515" stroke="none"/>
<rect x="-16.0" y="-38.0" width="36.0" height="6.0" fill="#151515" stroke="none"/>
<line x1="-12.0" y1="-29.0" x2="-12.0" y2="29.0" stroke="#151515" stroke-width="3.6"/>
<line x1="13.0" y1="-29.0" x2="13.0" y2="29.0" stroke="#151515" stroke-width="3.6"/>
<line x1="-37.0" y1="-4.0" x2="37.0" y2="-4.0" stroke="#151515" stroke-width="3.4"/>
<line x1="-37.0" y1="5.0" x2="37.0" y2="5.0" stroke="#151515" stroke-width="3.4"/>
<rect x="-12.0" y="-12.0" width="25.0" height="24.0" fill="#151515" stroke="none"/>
<rect x="-6.0" y="-2.5" width="13.0" height="5.5" fill="#f8f8f8" stroke="none"/>
<path d="M-30 -12 l12 14 M-18 -12 l-12 14 M20 -12 l12 14 M32 -12 l-12 14" fill="none" stroke="#151515" stroke-width="3.0"/>
<rect x="-37.0" y="-20.0" width="7.0" height="49.0" fill="none" stroke="#151515" stroke-width="2.6"/>
<rect x="30.0" y="-29.0" width="10.0" height="39.0" fill="#151515" stroke="none"/>
</g>
<rect x="139.0" y="-15.0" width="12.0" height="30.0" fill="#151515" stroke="none"/>
<rect x="136.0" y="-10.0" width="18.0" height="20.0" fill="#151515" stroke="none"/>
<rect x="173.0" y="-16.0" width="12.0" height="31.0" fill="#151515" stroke="none"/>
<rect x="151.0" y="-60.0" width="25.0" height="32.0" fill="#f8f8f8" stroke="#151515" stroke-width="4.0"/>
<rect x="155.0" y="-28.0" width="14.0" height="22.0" fill="#151515" stroke="none"/>
<rect x="158.0" y="-20.0" width="8.0" height="8.0" fill="#f8f8f8" stroke="none"/>
<rect x="156.0" y="8.0" width="14.0" height="22.0" fill="#151515" stroke="none"/>
<rect x="154.0" y="32.0" width="20.0" height="20.0" fill="#f8f8f8" stroke="#151515" stroke-width="3.4"/>
<rect x="160.0" y="52.0" width="9.0" height="12.0" fill="#f8f8f8" stroke="#151515" stroke-width="3.0"/>
<g transform="translate(229.6 0) rotate(4)">
<rect x="-37.0" y="-29.0" width="74.0" height="58.0" fill="#f8f8f8" stroke="#151515" stroke-width="4.2"/>
<rect x="-37.0" y="-33.0" width="67.0" height="13.0" fill="#151515" stroke="none"/>
<rect x="-16.0" y="-38.0" width="36.0" height="6.0" fill="#151515" stroke="none"/>
<line x1="-12.0" y1="-29.0" x2="-12.0" y2="29.0" stroke="#151515" stroke-width="3.6"/>
<line x1="13.0" y1="-29.0" x2="13.0" y2="29.0" stroke="#151515" stroke-width="3.6"/>
<line x1="-37.0" y1="-4.0" x2="37.0" y2="-4.0" stroke="#151515" stroke-width="3.4"/>
<line x1="-37.0" y1="5.0" x2="37.0" y2="5.0" stroke="#151515" stroke-width="3.4"/>
<rect x="-12.0" y="-12.0" width="25.0" height="24.0" fill="#151515" stroke="none"/>
<rect x="-6.0" y="-2.5" width="13.0" height="5.5" fill="#f8f8f8" stroke="none"/>
<path d="M-30 -12 l12 14 M-18 -12 l-12 14 M20 -12 l12 14 M32 -12 l-12 14" fill="none" stroke="#151515" stroke-width="3.0"/>
<rect x="-37.0" y="-20.0" width="7.0" height="49.0" fill="none" stroke="#151515" stroke-width="2.6"/>
<rect x="30.0" y="-29.0" width="10.0" height="39.0" fill="#151515" stroke="none"/>
</g>
<g transform="translate(320.9 0) rotate(4)">
<rect x="-37.0" y="-29.0" width="74.0" height="58.0" fill="#f8f8f8" stroke="#151515" stroke-width="4.2"/>
<rect x="-37.0" y="-33.0" width="67.0" height="13.0" fill="#151515" stroke="none"/>
<rect x="-16.0" y="-38.0" width="36.0" height="6.0" fill="#151515" stroke="none"/>
<line x1="-12.0" y1="-29.0" x2="-12.0" y2="29.0" stroke="#151515" stroke-width="3.6"/>
<line x1="13.0" y1="-29.0" x2="13.0" y2="29.0" stroke="#151515" stroke-width="3.6"/>
<line x1="-37.0" y1="-4.0" x2="37.0" y2="-4.0" stroke="#151515" stroke-width="3.4"/>
<line x1="-37.0" y1="5.0" x2="37.0" y2="5.0" stroke="#151515" stroke-width="3.4"/>
<rect x="-12.0" y="-12.0" width="25.0" height="24.0" fill="#151515" stroke="none"/>
<rect x="-6.0" y="-2.5" width="13.0" height="5.5" fill="#f8f8f8" stroke="none"/>
<path d="M-30 -12 l12 14 M-18 -12 l-12 14 M20 -12 l12 14 M32 -12 l-12 14" fill="none" stroke="#151515" stroke-width="3.0"/>
<rect x="-37.0" y="-20.0" width="7.0" height="49.0" fill="none" stroke="#151515" stroke-width="2.6"/>
<rect x="30.0" y="-29.0" width="10.0" height="39.0" fill="#151515" stroke="none"/>
</g>
<rect x="362.0" y="-17.0" width="15.0" height="33.0" fill="#151515" stroke="none"/>
<rect x="358.0" y="-12.0" width="23.0" height="24.0" fill="#151515" stroke="none"/>
<line x1="377.0" y1="0.0" x2="424.0" y2="0.0" stroke="#151515" stroke-width="2.8"/>
<circle cx="423.0" cy="-10.0" r="3.5" fill="#151515" stroke="#151515" stroke-width="0.0"/>
<circle cx="423.0" cy="11.0" r="3.5" fill="#151515" stroke="#151515" stroke-width="0.0"/>
<line x1="421.0" y1="-10.0" x2="421.0" y2="11.0" stroke="#151515" stroke-width="2.6"/>
</g>
<rect x="994.0" y="242.0" width="6.0" height="6.0" fill="#e01030" stroke="none"/>
<rect x="932.0" y="276.0" width="5.0" height="8.0" fill="#e01030" stroke="none"/>
<rect x="1056.0" y="272.0" width="8.0" height="4.0" fill="#e01030" stroke="none"/>
<rect x="1052.0" y="290.0" width="5.0" height="14.0" fill="#e01030" stroke="none"/>
<rect x="1129.0" y="288.0" width="5.0" height="16.0" fill="#e01030" stroke="none"/>
<rect x="1201.0" y="244.0" width="9.0" height="7.0" fill="#e01030" stroke="none"/>
<g font-family="'Liberation Sans', sans-serif" fill="#0c0c0c">
<text x="362.5" y="270.0" text-anchor="start" font-size="64.7">Sector</text>
<text x="1153.0" y="465.4" text-anchor="middle" font-size="64.7">Septum magnets</text>
<text x="1153.0" y="542.4" text-anchor="middle" font-size="64.7">for injection</text>
<text x="811.0" y="692.0" text-anchor="middle" font-size="64.7">Schottky Cavity</text>
<text x="811.0" y="770.5" text-anchor="middle" font-size="64.7">Box #2</text>
<text x="1900.5" y="81.5" text-anchor="start" font-size="64.7">Rare RI</text>
<text x="1966.5" y="305.5" text-anchor="middle" font-size="64.7">2 m</text>
<text x="543.5" y="1005.5" text-anchor="middle" font-size="64.7">Schottky</text>
<text x="544.0" y="1083.6" text-anchor="middle" font-size="64.7">Cavity Doublet</text>
<text x="1638.3" y="1544.0" text-anchor="middle" font-size="64.7">Kicker</text>
<text x="1637.0" y="1620.6" text-anchor="middle" font-size="64.7">magnet</text>
<text x="1344.2" y="1933.5" text-anchor="middle" font-size="64.7">Schottky</text>
<text x="1345.0" y="2011.0" text-anchor="middle" font-size="64.7">resonator</text>
<text x="591.0" y="1623.0" text-anchor="middle" font-size="64.7">Septum magnets</text>
<text x="592.8" y="1700.8" text-anchor="middle" font-size="64.7">for extraction</text>
<text x="9.5" y="2173.0" text-anchor="start" font-size="64.7">TOF stop counter</text>
<text x="944.9" y="1845.5" text-anchor="middle" font-size="64.7">Schottky Cavity</text>
<text x="941.7" y="1923.5" text-anchor="middle" font-size="64.7">Box #1</text>
</g>
<g stroke="#0c0c0c" stroke-width="3.6" fill="none" stroke-linecap="butt">
<polyline points="351,480.5 317.5,420 793,148 826,206"/>
<polyline points="1015,272 1114,397 1131,280"/>
<line x1="562.6" y1="667.9" x2="360.6" y2="673.9"/>
<line x1="1904" y1="11.6" x2="1822" y2="43.8"/>
<path d="M1813.8 47 L1838.4 27 L1831 41.5 L1846.2 46.6 Z" fill="#0c0c0c" stroke-width="1.5"/>
<line x1="304" y1="844.4" x2="420.4" y2="957.6"/>
<line x1="1724.8" y1="1634.8" x2="1865.8" y2="1690.7"/>
<line x1="1213.5" y1="2025.2" x2="1088" y2="2142.8"/>
<polyline points="245.8,1640.3 351.9,1646.1 311.4,1737"/>
<line x1="225.6" y1="2101.6" x2="313.1" y2="1898.6"/>
<line x1="979.1" y1="1947.4" x2="1021.6" y2="2141.4"/>
</g>
<g stroke="#0c0c0c" fill="none"><line x1="1862" y1="337.5" x2="2071" y2="337.5" stroke-width="7"/><line x1="1863.6" y1="320.5" x2="1863.6" y2="355.5" stroke-width="7.5"/><line x1="2069" y1="320.5" x2="2069" y2="355.5" stroke-width="7.5"/></g></g></svg></body></html>
